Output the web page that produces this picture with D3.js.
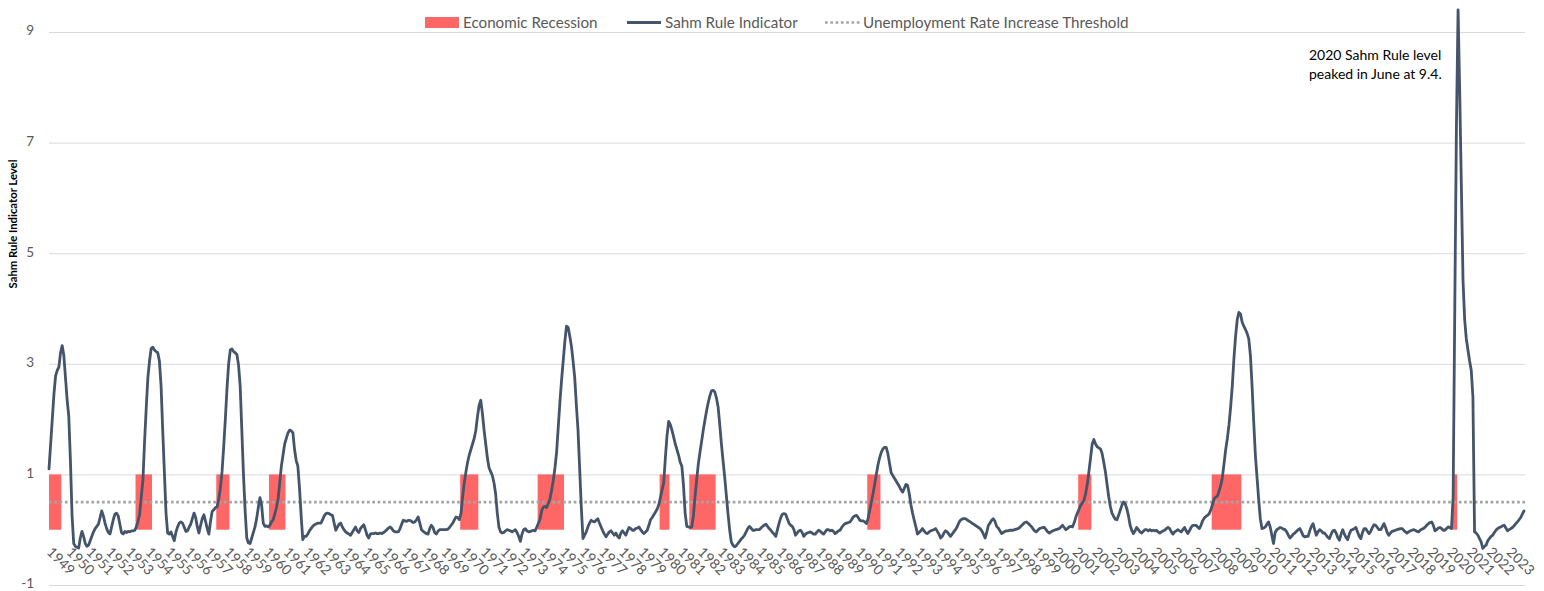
<!DOCTYPE html>
<html>
<head>
<meta charset="utf-8">
<script src="https://cdn.jsdelivr.net/npm/d3@7"></script>
<style>
  html, body { margin: 0; padding: 0; background: #ffffff; }
  svg { display: block; }
</style>
</head>
<body>
<svg id="chart" width="1544" height="591"></svg>
<script>
// ---------------- DATA ----------------
// Monthly Sahm Rule indicator, first value = March 1949, one row per 12 months (Mar..Feb)
const startYear = 1949;
const startMonth = 3;
const sahmValues = [
  1.10, 1.55, 2.00, 2.45, 2.78, 2.88, 2.94, 3.20, 3.33, 3.15, 2.75, 2.35,
  2.05, 1.25, 0.25, -0.25, -0.30, -0.32, -0.33, -0.15, -0.03, -0.12, -0.25, -0.30,
  -0.28, -0.20, -0.12, -0.04, 0.02, 0.06, 0.10, 0.22, 0.34, 0.25, 0.12, 0.02,
  -0.05, -0.08, 0.05, 0.18, 0.28, 0.30, 0.25, 0.10, -0.05, -0.08, -0.03, -0.05,
  -0.03, -0.04, -0.02, -0.02, -0.01, 0.05, 0.15, 0.28, 0.60, 0.90, 1.60, 2.20,
  2.75, 3.05, 3.28, 3.30, 3.25, 3.22, 3.20, 3.05, 2.60, 1.80, 1.05, 0.30,
  -0.06, -0.08, -0.04, -0.12, -0.20, -0.05, 0.05, 0.12, 0.14, 0.12, 0.05, -0.03,
  -0.02, 0.04, 0.10, 0.20, 0.30, 0.22, 0.05, -0.06, 0.08, 0.20, 0.27, 0.15,
  0.02, -0.08, 0.15, 0.33, 0.36, 0.40, 0.41, 0.55, 0.75, 1.05, 1.50, 2.00,
  2.55, 3.00, 3.25, 3.27, 3.22, 3.20, 3.17, 2.98, 2.60, 1.80, 1.00, 0.35,
  -0.15, -0.24, -0.25, -0.15, -0.05, 0.05, 0.20, 0.40, 0.58, 0.45, 0.12, 0.06,
  0.07, 0.05, 0.08, 0.14, 0.18, 0.28, 0.40, 0.55, 0.85, 1.15, 1.35, 1.55,
  1.65, 1.75, 1.80, 1.79, 1.75, 1.45, 1.25, 1.15, 0.75, 0.25, -0.18, -0.12,
  -0.12, -0.08, -0.02, 0.02, 0.06, 0.09, 0.10, 0.12, 0.12, 0.12, 0.18, 0.25,
  0.29, 0.30, 0.29, 0.27, 0.26, 0.12, -0.01, 0.05, 0.10, 0.12, 0.05, 0.00,
  -0.04, -0.06, -0.08, -0.10, -0.05, 0.00, 0.05, -0.02, -0.05, 0.02, 0.06, 0.09,
  0.00, -0.10, -0.15, -0.08, -0.07, -0.07, -0.06, -0.07, -0.07, -0.06, -0.07, -0.05,
  -0.03, 0.00, 0.03, 0.05, 0.02, -0.02, -0.04, -0.04, -0.04, 0.02, 0.10, 0.17,
  0.16, 0.15, 0.17, 0.17, 0.15, 0.13, 0.14, 0.18, 0.23, 0.12, 0.00, -0.03,
  -0.05, -0.07, -0.08, 0.02, 0.08, 0.04, -0.05, -0.08, -0.03, 0.00, 0.00, 0.00,
  0.00, 0.00, 0.01, 0.04, 0.08, 0.12, 0.18, 0.23, 0.22, 0.18, 0.30, 0.60,
  0.85, 1.05, 1.22, 1.35, 1.45, 1.55, 1.65, 1.80, 2.05, 2.25, 2.34, 2.10,
  1.80, 1.55, 1.30, 1.12, 1.05, 0.98, 0.85, 0.65, 0.30, 0.05, -0.04, -0.06,
  -0.05, -0.02, 0.00, -0.01, -0.02, -0.04, -0.02, 0.00, -0.05, -0.12, -0.21, -0.08,
  0.00, 0.02, -0.02, -0.04, -0.03, -0.02, -0.01, -0.02, 0.05, 0.12, 0.20, 0.35,
  0.41, 0.42, 0.40, 0.48, 0.56, 0.72, 0.89, 1.12, 1.40, 1.85, 2.30, 2.70,
  3.05, 3.40, 3.68, 3.66, 3.50, 3.32, 3.05, 2.75, 2.25, 1.80, 1.10, 0.40,
  -0.16, -0.10, -0.04, 0.05, 0.12, 0.17, 0.15, 0.14, 0.17, 0.20, 0.12, 0.05,
  -0.02, -0.08, -0.13, -0.08, -0.04, -0.02, -0.06, -0.10, -0.06, -0.12, -0.15, -0.06,
  -0.02, -0.06, -0.10, -0.02, 0.04, 0.02, -0.01, -0.01, 0.02, 0.03, 0.05, 0.00,
  -0.04, -0.07, -0.04, -0.01, 0.08, 0.18, 0.22, 0.27, 0.32, 0.37, 0.45, 0.58,
  0.72, 0.85, 1.30, 1.70, 1.96, 1.90, 1.80, 1.68, 1.55, 1.45, 1.35, 1.22,
  1.15, 0.80, 0.30, 0.06, 0.05, 0.04, 0.05, 0.25, 0.60, 0.90, 1.19, 1.40,
  1.60, 1.80, 1.98, 2.15, 2.30, 2.42, 2.51, 2.52, 2.49, 2.38, 2.22, 1.90,
  1.55, 1.25, 0.95, 0.62, 0.29, 0.00, -0.22, -0.28, -0.31, -0.29, -0.25, -0.21,
  -0.17, -0.14, -0.10, -0.04, 0.02, 0.06, 0.03, -0.01, -0.01, 0.00, 0.00, 0.00,
  0.03, 0.06, 0.08, 0.10, 0.06, 0.02, -0.01, -0.05, -0.08, -0.12, 0.00, 0.12,
  0.22, 0.28, 0.29, 0.28, 0.20, 0.12, 0.08, 0.06, 0.00, -0.10, -0.06, -0.02,
  -0.01, -0.05, -0.12, -0.08, -0.06, -0.05, -0.04, -0.06, -0.08, -0.08, -0.04, -0.01,
  -0.03, -0.06, -0.08, -0.04, 0.00, 0.00, -0.02, -0.01, -0.03, -0.07, -0.05, -0.02,
  -0.01, 0.04, 0.08, 0.11, 0.12, 0.13, 0.14, 0.18, 0.23, 0.25, 0.26, 0.22,
  0.17, 0.16, 0.16, 0.14, 0.11, 0.20, 0.35, 0.50, 0.65, 0.82, 1.00, 1.17,
  1.30, 1.40, 1.46, 1.49, 1.49, 1.38, 1.20, 1.03, 0.98, 0.93, 0.88, 0.83,
  0.78, 0.72, 0.68, 0.75, 0.82, 0.80, 0.65, 0.45, 0.30, 0.17, 0.05, -0.08,
  -0.05, -0.02, 0.02, -0.02, -0.06, -0.07, -0.04, -0.02, -0.01, 0.00, 0.02, -0.03,
  -0.08, -0.15, -0.12, -0.06, -0.02, -0.04, -0.08, -0.12, -0.08, -0.04, 0.00, 0.05,
  0.12, 0.17, 0.19, 0.20, 0.20, 0.18, 0.16, 0.14, 0.12, 0.10, 0.08, 0.06,
  0.04, 0.02, -0.02, -0.08, -0.15, -0.05, 0.08, 0.12, 0.17, 0.20, 0.15, 0.06,
  0.03, -0.02, -0.07, -0.05, -0.03, -0.02, -0.02, -0.01, -0.01, -0.01, 0.00, 0.01,
  0.02, 0.04, 0.07, 0.10, 0.13, 0.14, 0.12, 0.09, 0.06, 0.02, -0.02, -0.04,
  -0.01, 0.02, 0.03, 0.04, 0.04, 0.00, -0.04, -0.06, -0.04, -0.02, -0.01, 0.00,
  0.01, 0.02, 0.05, 0.08, 0.04, 0.00, 0.02, 0.05, 0.06, 0.05, 0.12, 0.22,
  0.30, 0.37, 0.44, 0.48, 0.53, 0.65, 0.82, 1.05, 1.30, 1.55, 1.63, 1.55,
  1.50, 1.48, 1.46, 1.38, 1.22, 1.05, 0.82, 0.60, 0.42, 0.30, 0.24, 0.19,
  0.18, 0.26, 0.35, 0.44, 0.50, 0.47, 0.38, 0.25, 0.08, -0.01, -0.07, -0.02,
  0.04, 0.00, -0.04, -0.06, -0.03, 0.00, 0.00, -0.02, 0.00, -0.02, -0.01, -0.02,
  -0.01, -0.04, -0.06, -0.04, -0.02, -0.01, 0.02, 0.04, 0.02, -0.04, -0.08, -0.04,
  -0.02, 0.00, -0.02, -0.04, 0.00, 0.04, -0.02, -0.07, -0.02, 0.04, 0.08, 0.08,
  0.08, 0.05, 0.02, 0.08, 0.16, 0.21, 0.24, 0.26, 0.29, 0.36, 0.46, 0.56,
  0.59, 0.61, 0.70, 0.80, 0.95, 1.20, 1.45, 1.65, 1.90, 2.22, 2.60, 3.10,
  3.50, 3.80, 3.93, 3.90, 3.75, 3.68, 3.62, 3.55, 3.45, 3.15, 2.60, 1.95,
  1.35, 0.95, 0.55, 0.20, 0.02, 0.03, 0.05, 0.10, 0.14, 0.05, -0.10, -0.25,
  -0.05, 0.00, 0.02, 0.04, 0.03, 0.01, 0.00, -0.04, -0.10, -0.15, -0.12, -0.08,
  -0.06, -0.03, 0.00, 0.02, -0.04, -0.11, -0.13, -0.12, -0.12, -0.02, 0.06, 0.11,
  0.00, -0.10, -0.04, 0.00, -0.02, -0.06, -0.06, -0.10, -0.14, -0.16, -0.08, -0.02,
  -0.01, -0.06, -0.14, -0.19, -0.08, 0.00, -0.08, -0.14, -0.18, -0.08, -0.01, 0.00,
  0.02, 0.04, -0.04, -0.12, -0.16, -0.05, 0.02, 0.02, -0.03, -0.07, -0.03, 0.04,
  0.09, 0.08, 0.04, 0.00, 0.00, 0.05, 0.11, 0.04, -0.05, -0.10, -0.06, -0.03,
  -0.02, -0.01, 0.00, 0.01, 0.02, 0.02, -0.01, -0.04, -0.06, -0.04, -0.02, -0.01,
  0.00, -0.01, -0.03, -0.04, -0.01, 0.01, 0.02, 0.05, 0.08, 0.11, 0.13, 0.14,
  0.08, -0.02, 0.00, 0.03, 0.04, 0.02, -0.01, -0.01, 0.02, 0.05, 0.04, 0.02,
  0.60, 4.00, 7.30, 9.40, 7.90, 6.20, 4.50, 3.80, 3.45, 3.25, 3.05, 2.88,
  2.40, -0.04, -0.06, -0.10, -0.16, -0.22, -0.34, -0.30, -0.28, -0.20, -0.16, -0.12,
  -0.10, -0.05, -0.01, 0.02, 0.04, 0.05, 0.07, 0.08, 0.03, -0.02, 0.00, 0.02,
  0.04, 0.07, 0.11, 0.14, 0.18, 0.22, 0.28, 0.34
];

// Recession months shown as bars (first and last month, inclusive)
const recessions = [
  ["1949-03", "1949-10"], ["1953-08", "1954-05"], ["1957-09", "1958-04"],
  ["1960-05", "1961-02"], ["1970-01", "1970-11"], ["1973-12", "1975-03"],
  ["1980-02", "1980-07"], ["1981-08", "1982-11"], ["1990-08", "1991-03"],
  ["2001-04", "2001-11"], ["2008-01", "2009-06"], ["2020-03", "2020-05"]
];
const recessionLevel = 1;
const thresholdLevel = 0.5;

const yTicks = [-1, 1, 3, 5, 7, 9];
const yearLabels = [
  "1949","1950","1951","1952","1953","1954","1955","1956","1957","1958",
  "1959","1960","1961","1962","1963","1964","1965","1966","1967","1968",
  "1969","1970","1971","1972","1973","1974","1975","1976","1977","1978",
  "1979","1980","1981","1982","1983","1984","1985","1986","1987","1988",
  "1989","1990","1991","1992","1993","1994","1995","1996","1997","1998",
  "1999","2000","2001","2002","2003","2004","2005","2006","2007","2008",
  "2009","2010","2011","2012","2013","2014","2015","2016","2017","2018",
  "2019","2020","2021","2022","2023"
];
const legendItems = ["Economic Recession", "Sahm Rule Indicator", "Unemployment Rate Increase Threshold"];
const annotationLines = ["2020 Sahm Rule level", "peaked in June at 9.4."];
const yAxisTitle = "Sahm Rule Indicator Level";

// ---------------- CHART ----------------
const FONT = "Lato, 'Open Sans', 'Liberation Sans', sans-serif";
const COLORS = { line: "#44546a", rec: "#ff6666", thr: "#a5a5a5", grid: "#d9d9d9", text: "#595959" };
const plotLeft = 49, plotRight = 1525;

const svg = d3.select("#chart");
svg.append("rect").attr("width", 1544).attr("height", 591).attr("fill", "#ffffff");

const x = d3.scaleLinear().domain([0, sahmValues.length - 1]).range([49, 1524]);
const y = d3.scaleLinear().domain([-1, 9]).range([585, 32]);
const monthIndex = s => {
  const [yy, mm] = s.split("-").map(Number);
  return (yy - startYear) * 12 + (mm - startMonth);
};

// y axis with gridlines
const yAxis = d3.axisLeft(y)
  .tickValues(yTicks)
  .tickSize(-(plotRight - plotLeft))
  .tickPadding(15)
  .tickFormat(d => String(d));
const gy = svg.append("g").attr("transform", `translate(${plotLeft},0)`).call(yAxis);
gy.select(".domain").remove();
gy.selectAll(".tick line").attr("stroke", COLORS.grid).attr("stroke-width", 1);
gy.selectAll(".tick text")
  .attr("fill", COLORS.text)
  .attr("dy", "0.22em")
  .style("font-family", FONT)
  .style("font-size", "13.5px");

// recession bars
svg.append("g").selectAll("rect")
  .data(recessions)
  .join("rect")
  .attr("x", d => Math.max(x(monthIndex(d[0]) - 0.5), plotLeft))
  .attr("width", d => x(monthIndex(d[1]) + 0.5) - Math.max(x(monthIndex(d[0]) - 0.5), plotLeft))
  .attr("y", y(recessionLevel))
  .attr("height", y(0) - y(recessionLevel))
  .attr("fill", COLORS.rec);

// threshold line
svg.append("line")
  .attr("x1", plotLeft).attr("x2", plotRight)
  .attr("y1", y(thresholdLevel)).attr("y2", y(thresholdLevel))
  .attr("stroke", COLORS.thr)
  .attr("stroke-width", 2.7)
  .attr("stroke-dasharray", "2.7 2.6");

// Sahm line
const line = d3.line().x((d, i) => x(i)).y(d => y(d));
svg.append("path")
  .datum(sahmValues)
  .attr("d", line)
  .attr("fill", "none")
  .attr("stroke", COLORS.line)
  .attr("stroke-width", 2.8)
  .attr("stroke-linejoin", "round")
  .attr("stroke-linecap", "round");

// x labels (rotated)
svg.append("g").selectAll("text")
  .data(yearLabels)
  .join("text")
  .attr("transform", (d, i) => `translate(${x(i * 12) + 0.5 - i * 0.05},549.5) rotate(45)`)
  .attr("dy", "0.35em")
  .attr("text-anchor", "start")
  .attr("fill", COLORS.text)
  .style("font-family", FONT)
  .style("font-size", "14px")
  .text(d => d);

// y axis title
svg.append("text")
  .attr("transform", "translate(17,224) rotate(-90)")
  .attr("text-anchor", "middle")
  .attr("fill", "#000000")
  .style("font-family", FONT)
  .style("font-size", "11.3px")
  .style("font-weight", "bold")
  .text(yAxisTitle);

// annotation
svg.append("g").selectAll("text")
  .data(annotationLines)
  .join("text")
  .attr("x", 1309)
  .attr("y", (d, i) => 55.5 + i * 18.5)
  .attr("dy", "0.35em")
  .attr("fill", "#000000")
  .style("font-family", FONT)
  .style("font-size", "14px")
  .text(d => d);

// legend
const lg = svg.append("g");
const legendY = 22.5;
lg.append("rect").attr("x", 425).attr("y", legendY - 5.5).attr("width", 34).attr("height", 11).attr("fill", COLORS.rec);
lg.append("line").attr("x1", 627).attr("x2", 661).attr("y1", legendY).attr("y2", legendY)
  .attr("stroke", COLORS.line).attr("stroke-width", 2.8);
lg.append("line").attr("x1", 825).attr("x2", 860).attr("y1", legendY).attr("y2", legendY)
  .attr("stroke", COLORS.thr).attr("stroke-width", 2.7).attr("stroke-dasharray", "2.7 2.6");
const legendTextX = [463, 665, 863];
lg.selectAll("text.lt")
  .data(legendItems)
  .join("text")
  .attr("class", "lt")
  .attr("x", (d, i) => legendTextX[i])
  .attr("y", legendY)
  .attr("dy", "0.35em")
  .attr("fill", COLORS.text)
  .style("font-family", FONT)
  .style("font-size", "15.2px")
  .text(d => d);
</script>
</body>
</html>
